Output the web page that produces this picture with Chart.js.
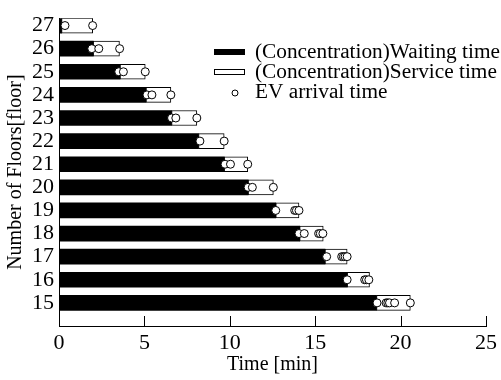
<!DOCTYPE html>
<html>
<head>
<meta charset="utf-8">
<script src="https://cdn.jsdelivr.net/npm/chart.js@4"></script>
<style>
  body { margin: 0; background: #fff; }
  #wrap { width: 501px; height: 380px; }
</style>
</head>
<body>
<div id="wrap"><canvas id="chart-floors" width="501" height="380"></canvas></div>
<script>
const floors = [27, 26, 25, 24, 23, 22, 21, 20, 19, 18, 17, 16, 15]
const waitingTime = [0.15, 2.0, 3.57, 5.09, 6.59, 8.17, 9.67, 11.07, 12.69, 14.09, 15.57, 16.87, 18.59]
const serviceTime = [1.82, 1.54, 1.48, 1.46, 1.48, 1.5, 1.38, 1.48, 1.36, 1.38, 1.3, 1.31, 1.98]
const arrivalTimes = [
  [0.35, 1.97],
  [1.92, 2.33, 3.55],
  [3.5, 3.77, 5.05],
  [5.15, 5.44, 6.55],
  [6.59, 6.84, 8.07],
  [8.25, 9.67],
  [9.72, 10.04, 11.05],
  [11.07, 11.32, 12.55],
  [12.69, 13.8, 13.9, 14.05],
  [14.05, 14.36, 15.2, 15.3, 15.45],
  [15.67, 16.55, 16.65, 16.75, 16.87],
  [16.87, 17.9, 18.0, 18.14],
  [18.62, 19.15, 19.25, 19.35, 19.65, 20.57]
]
const xTicks = [0, 5, 10, 15, 20, 25]

const serif = 'Liberation Serif'

const arrivalPoints = []
floors.forEach((f, i) => {
  arrivalTimes[i].forEach(t => arrivalPoints.push({ x: t, y: f }))
})

// ticks pointing into the plot on the time axis
const innerTicks = {
  id: 'innerTicks',
  afterDraw(chart) {
    const ctx = chart.ctx
    const xs = chart.scales.x
    ctx.save()
    ctx.strokeStyle = '#000'
    ctx.lineWidth = 1
    xTicks.forEach(v => {
      const px = Math.round(xs.getPixelForValue(v)) + 0.5
      ctx.beginPath()
      ctx.moveTo(px, xs.top)
      ctx.lineTo(px, xs.top - 10)
      ctx.stroke()
    })
    ctx.restore()
  }
}

// legend drawn inside the plot
const innerLegend = {
  id: 'innerLegend',
  afterDraw(chart) {
    const ctx = chart.ctx
    const ds = chart.data.datasets
    ctx.save()
    ctx.font = '21.3px "' + serif + '"'
    ctx.fillStyle = '#000'
    ctx.textBaseline = 'middle'
    ctx.textAlign = 'left'

    ctx.fillRect(214, 49, 31, 6)
    ctx.fillText(ds[1].label, 255, 52)

    ctx.strokeStyle = '#000'
    ctx.lineWidth = 1
    ctx.strokeRect(214.5, 69.5, 30, 5)
    ctx.fillText(ds[2].label, 255, 72)

    ctx.beginPath()
    ctx.arc(235, 93, 3, 0, Math.PI * 2)
    ctx.fillStyle = '#fff'
    ctx.fill()
    ctx.stroke()
    ctx.fillStyle = '#000'
    ctx.fillText(ds[0].label, 255, 92.5)
    ctx.restore()
  }
}

const ctx = document.getElementById('chart-floors').getContext('2d')

const data = {
  datasets: [
    {
      type: 'scatter',
      label: 'EV arrival time',
      indexAxis: 'x',
      data: arrivalPoints,
      pointRadius: 4,
      pointBorderWidth: 1,
      pointBackgroundColor: '#fff',
      pointBorderColor: '#000',
      order: 0
    },
    {
      type: 'bar',
      label: '(Concentration)Waiting time',
      data: floors.map((f, i) => ({ x: waitingTime[i], y: f })),
      backgroundColor: '#000',
      borderWidth: 0,
      barThickness: 15,
      grouped: false,
      order: 1
    },
    {
      type: 'bar',
      label: '(Concentration)Service time',
      data: floors.map((f, i) => ({ x: serviceTime[i], y: f })),
      backgroundColor: '#fff',
      borderColor: '#000',
      borderWidth: 1,
      borderSkipped: false,
      barThickness: 15,
      grouped: false,
      order: 1
    }
  ]
}

const config = {
  type: 'bar',
  data: data,
  options: {
    indexAxis: 'y',
    responsive: false,
    animation: false,
    layout: { padding: { top: 12, right: 14, left: 0, bottom: 0 } },
    plugins: {
      legend: { display: false },
      tooltip: { enabled: false }
    },
    scales: {
      x: {
        type: 'linear',
        stacked: true,
        offset: false,
        min: 0,
        max: 25,
        grid: { display: false, drawTicks: false, offset: false },
        border: { display: true, color: '#000', width: 1 },
        afterBuildTicks: s => { s.ticks = xTicks.map(v => ({ value: v })) },
        afterFit: s => { s.height = 54 },
        ticks: {
          color: '#000',
          padding: 4,
          maxRotation: 0,
          autoSkip: false,
          font: { family: serif, size: 22 }
        },
        title: {
          display: true,
          text: 'Time [min]',
          color: '#000',
          padding: { top: 0, bottom: 3 },
          font: { family: serif, size: 20 }
        }
      },
      y: {
        type: 'linear',
        offset: false,
        min: 14,
        max: 27.318,
        grid: { display: false, drawTicks: false, offset: false },
        border: { display: true, color: '#000', width: 1 },
        afterBuildTicks: s => { s.ticks = floors.map(v => ({ value: v })) },
        afterFit: s => { s.width = 59 },
        ticks: {
          color: '#000',
          padding: 5,
          autoSkip: false,
          font: { family: serif, size: 22 }
        },
        title: {
          display: true,
          text: 'Number of Floors[floor]',
          color: '#000',
          padding: { top: 4, bottom: 0 },
          font: { family: serif, size: 20 }
        }
      }
    }
  },
  plugins: [innerTicks, innerLegend]
}

const myChart = new Chart(ctx, config)
</script>
</body>
</html>
